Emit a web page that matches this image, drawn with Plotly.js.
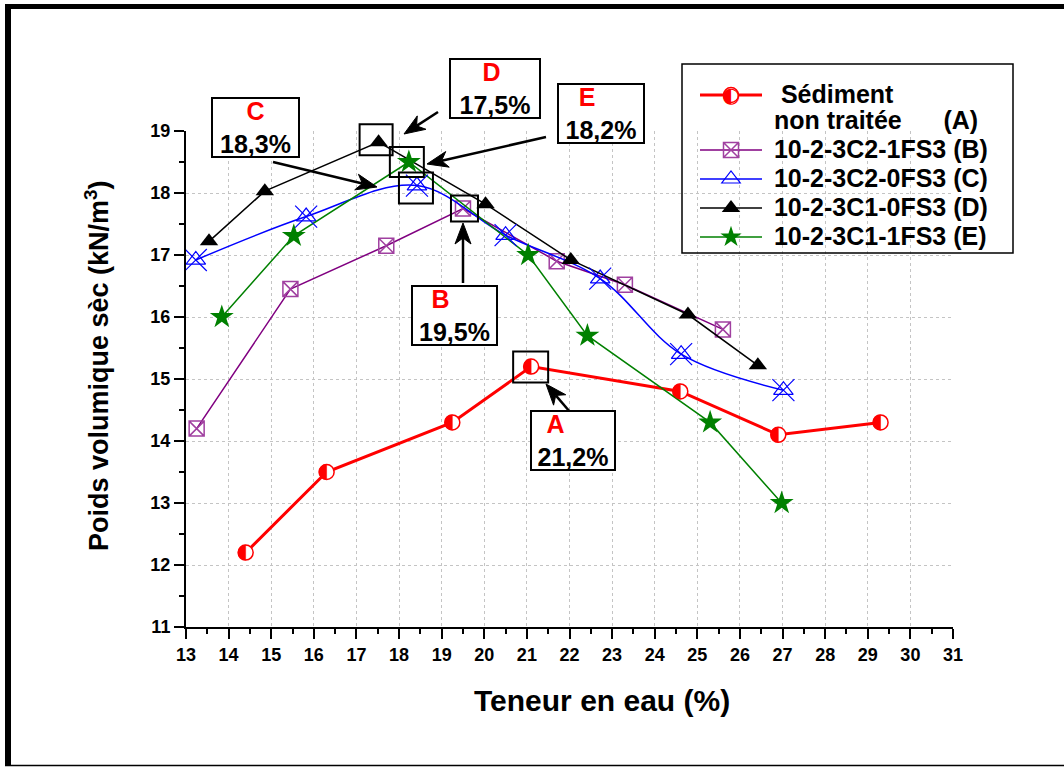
<!DOCTYPE html>
<html><head><meta charset="utf-8">
<script src="https://cdn.plot.ly/plotly-3.0.1.min.js"></script>
<style>html,body{margin:0;padding:0;background:#fff}#chart{width:1064px;height:767px}</style>
</head><body><div id="chart"></div>
<script>
// ---------- data ----------
const xA = [14.4, 16.3, 19.25, 21.1, 24.6, 26.9, 29.3];
const yA = [12.2, 13.5, 14.3, 15.2, 14.8, 14.1, 14.3];
const xB = [13.25, 15.45, 17.7, 19.5, 21.7, 23.3, 25.6];
const yB = [14.2, 16.45, 17.15, 17.75, 16.9, 16.52, 15.8];
const xC = [13.23, 15.82, 18.42, 20.5, 22.72, 24.62, 27.02];
const yC = [16.92, 17.62, 18.12, 17.32, 16.62, 15.4, 14.82];
const xD = [13.54, 14.85, 17.52, 20.03, 22.03, 24.78, 26.42];
const yD = [17.22, 18.03, 18.82, 17.82, 16.92, 16.04, 15.22];
const xE = [13.84, 15.53, 18.23, 21.03, 22.42, 25.3, 26.98];
const yE = [16.0, 17.31, 18.5, 17.0, 15.7, 14.3, 13.0];
const seriesNames = ['Sédiment', 'non traitée', '10-2-3C2-1FS3 (B)', '10-2-3C2-0FS3 (C)', '10-2-3C1-0FS3 (D)', '10-2-3C1-1FS3 (E)'];
const boxLetters = ['A', 'B', 'C', 'D', 'E'];
const boxValues = ['21,2%', '19,5%', '18,3%', '17,5%', '18,2%'];
const xTitle = 'Teneur en eau (%)';
const yTitle = 'Poids volumique sèc (kN/m<sup>3</sup>)';
const xRange = [13, 31];
const yRange = [11, 19];

// ---------- layout helpers ----------
const FONT = 'Liberation Sans, Arial, sans-serif';
const L = 186, R = 953, T = 131, B = 627;
const px = v => (v - L) / (R - L);
const py = v => (B - v) / (B - T);
const xp = v => (v - xRange[0]) / (xRange[1] - xRange[0]);
const yp = v => (v - yRange[0]) / (yRange[1] - yRange[0]);
const big = s => "<span style='font-size:25px'>" + s + "</span>";
const NB = '\u00a0';

const traces = [
  {x: xA, y: yA, mode: 'lines+markers', name: big(NB + NB + seriesNames[0]) + '<br>' + big(NB + seriesNames[1] + NB.repeat(6) + '(A)'),
   line: {color: '#ff0000', width: 3},
   marker: {symbol: 'circle', size: 15, color: '#ffffff', line: {color: '#ff0000', width: 1.5}}},
  {x: xB, y: yB, mode: 'lines+markers', name: big(NB + seriesNames[2]),
   line: {color: '#800080', width: 1.5},
   marker: {symbol: 'square-x-open', size: 15, color: '#a040a0', line: {width: 1.5}}},
  {x: xC, y: yC, mode: 'lines+markers', name: big(NB + seriesNames[3]),
   line: {color: '#0000ff', width: 1.5, shape: 'spline', smoothing: 1},
   marker: {symbol: 'triangle-up-open', size: 17, color: '#0000ff', line: {width: 1.2}}},
  {x: xD, y: yD, mode: 'lines+markers', name: big(NB + seriesNames[4]),
   line: {color: '#000000', width: 1.5},
   marker: {symbol: 'triangle-up', size: 16, color: '#000000'}},
  {x: xE, y: yE, mode: 'lines+markers', name: big(NB + seriesNames[5]),
   line: {color: '#008000', width: 1.5},
   marker: {symbol: 'star', size: 18, color: '#008000'}},
  {x: xC, y: yC, mode: 'markers', showlegend: false,
   marker: {symbol: 'x-thin-open', size: 22, color: '#0000ff', line: {width: 1.2}}}
];

// half-filled circle path (pixel units)
const r = 7.5, k = 0.5523 * r;
const halfDisc = `M0,${r} C${-k},${r} ${-r},${k} ${-r},0 C${-r},${-k} ${-k},${-r} 0,${-r} Z`;

const shapes = [];
xA.forEach((xv, i) => shapes.push({type: 'path', xref: 'paper', yref: 'paper', xsizemode: 'pixel', ysizemode: 'pixel',
  xanchor: xp(xv), yanchor: yp(yA[i]), path: halfDisc, fillcolor: '#ff0000', line: {color: '#ff0000', width: 0.5}, layer: 'above'}));

// highlight squares around optimum points [x, y, x0, x1, y0, y1] offsets in px (y up)
const hl = [
  [xA[3], yA[3], -18, 17, -16, 15],
  [xB[3], yB[3], -12, 15, -13, 13],
  [xC[2], yC[2], -18, 16, -18, 13],
  [xD[2], yD[2], -19, 14, -13, 18],
  [xE[2], yE[2], -19, 15, -15, 15]
];
hl.forEach(h => shapes.push({type: 'rect', xref: 'paper', yref: 'paper', xsizemode: 'pixel', ysizemode: 'pixel',
  xanchor: xp(h[0]), yanchor: yp(h[1]), x0: h[2], x1: h[3], y0: h[4], y1: h[5], line: {color: '#000', width: 2}, layer: 'above'}));

// legend frame and outer frame
shapes.push({type: 'rect', xref: 'paper', yref: 'paper', x0: px(682), x1: px(1013), y0: py(253), y1: py(64), line: {color: '#000', width: 1.5}});
shapes.push({type: 'line', xref: 'paper', yref: 'paper', x0: px(8), x1: px(8), y0: py(4), y1: py(766), line: {color: '#000', width: 6}});
shapes.push({type: 'line', xref: 'paper', yref: 'paper', x0: px(5), x1: px(1064), y0: py(6.5), y1: py(6.5), line: {color: '#000', width: 5}});
shapes.push({type: 'line', xref: 'paper', yref: 'paper', x0: px(5), x1: px(1064), y0: py(765.5), y1: py(765.5), line: {color: '#000', width: 1.5}});

// arrows [tipx, tipy, tailx, taily] in page pixels
const arr = [
  [546, 384, 570, 412],
  [463, 223, 463, 283],
  [377, 187, 273, 162],
  [404, 134, 438, 112],
  [427, 164, 546, 137]
];
const HL = 21, HW = 8, HN = 6;
arr.forEach(a => {
  const dx = a[0] - a[2], dy = a[1] - a[3], len = Math.hypot(dx, dy);
  const ux = dx / len, uy = dy / len;
  const bx = a[0] - ux * (HL - HN), by = a[1] - uy * (HL - HN);
  shapes.push({type: 'line', xref: 'paper', yref: 'paper', x0: px(a[2]), y0: py(a[3]), x1: px(bx), y1: py(by),
    line: {color: '#000', width: 2.5}, layer: 'above'});
  const pts = [[0, 0], [-ux * HL - uy * HW, -uy * HL + ux * HW], [-ux * (HL - HN), -uy * (HL - HN)], [-ux * HL + uy * HW, -uy * HL - ux * HW]];
  const path = 'M' + pts.map(p => p[0].toFixed(2) + ',' + (-p[1]).toFixed(2)).join(' L') + ' Z';
  shapes.push({type: 'path', xref: 'paper', yref: 'paper', xsizemode: 'pixel', ysizemode: 'pixel',
    xanchor: px(a[0]), yanchor: py(a[1]), path: path, fillcolor: '#000', line: {color: '#000', width: 1}, layer: 'above'});
});

// text boxes [letter idx, cx, cy, w, h, pad]
const tb = [
  [0, 573, 440.5, 82, 57, 5],
  [1, 454.5, 315.5, 83, 57, 4],
  [2, 255.5, 127.5, 85, 57, 0],
  [3, 495, 88, 88, 57, 1],
  [4, 601, 113.5, 84, 57, 4]
];
const annotations = [];
tb.forEach(t => annotations.push({xref: 'paper', yref: 'paper', x: px(t[1]), y: py(t[2]), xanchor: 'center', yanchor: 'middle',
  text: "<span style='color:#ff0000'>" + boxLetters[t[0]] + NB.repeat(t[5]) + '</span><br>' + boxValues[t[0]],
  showarrow: false, width: t[3], height: t[4], borderpad: 0, borderwidth: 2, bordercolor: '#000', bgcolor: '#fff',
  font: {family: FONT, size: 25, weight: 'bold', color: '#000'}}));

// axis titles (placed as annotations to match the original offsets)
annotations.push({xref: 'paper', yref: 'paper', x: px(602), y: py(700), xanchor: 'center', yanchor: 'middle', showarrow: false,
  text: xTitle, font: {family: FONT, size: 30, weight: 'bold', color: '#000'}});
annotations.push({xref: 'paper', yref: 'paper', x: px(97), y: py(366), xanchor: 'center', yanchor: 'middle', showarrow: false,
  text: yTitle, textangle: -90, font: {family: FONT, size: 27, weight: 'bold', color: '#000'}});
// half-filled symbol over the legend sample of series A
annotations.push({xref: 'paper', yref: 'paper', x: px(731), y: py(95), xanchor: 'center', yanchor: 'middle', showarrow: false,
  text: '\u25D0', font: {family: 'DejaVu Sans', size: 21, color: '#ff0000'}});

const axisCommon = {
  showgrid: true, gridcolor: '#c4c4c4', griddash: 'dot', gridwidth: 1,
  showline: true, linecolor: '#000', linewidth: 2, zeroline: false,
  ticks: 'outside', ticklen: 10, tickwidth: 2, tickcolor: '#000', dtick: 1,
  tickfont: {family: FONT, size: 18, weight: 'bold', color: '#000'},
  minor: {dtick: 0.5, ticks: 'outside', ticklen: 5, tickwidth: 2, tickcolor: '#000', showgrid: false},
  fixedrange: true
};

const layout = {
  width: 1064, height: 767,
  margin: {l: L, r: 1064 - R, t: T, b: 767 - B, autoexpand: false},
  paper_bgcolor: '#fff', plot_bgcolor: '#fff',
  xaxis: Object.assign({}, axisCommon, {range: xRange, tick0: 13}),
  yaxis: Object.assign({}, axisCommon, {range: yRange, tick0: 11}),
  showlegend: true,
  legend: {x: px(695), xanchor: 'left', y: py(75.5), yanchor: 'top', bgcolor: 'rgba(0,0,0,0)', borderwidth: 0,
    font: {family: FONT, size: 20, weight: 'bold', color: '#000'}, itemwidth: 62, valign: 'top', tracegroupgap: 0},
  shapes: shapes,
  annotations: annotations,
  hovermode: false
};

Plotly.newPlot('chart', traces, layout, {staticPlot: true, displayModeBar: false});
</script></body></html>
